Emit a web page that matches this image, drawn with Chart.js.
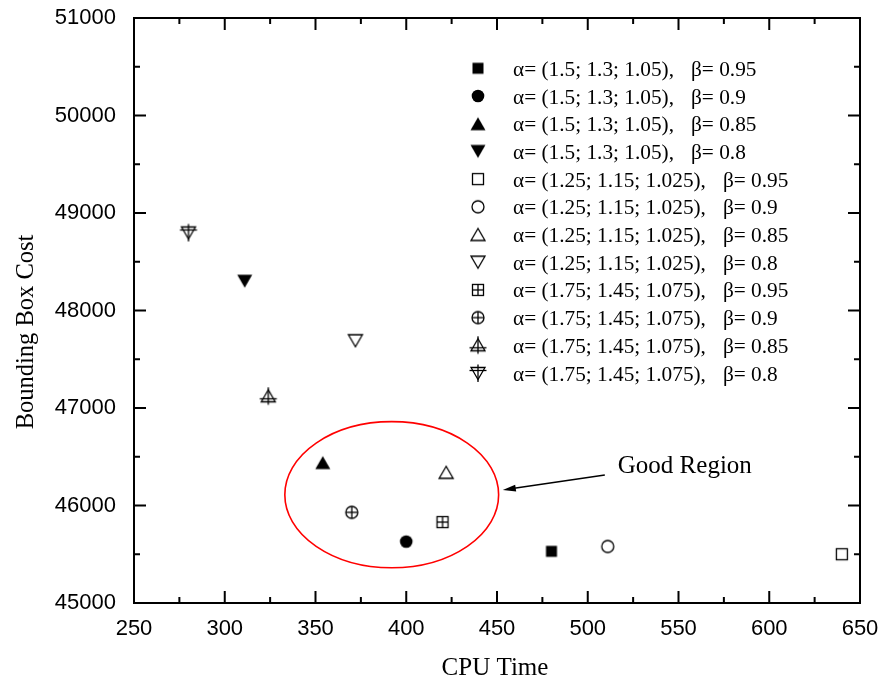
<!DOCTYPE html>
<html>
<head>
<meta charset="utf-8">
<script src="https://cdn.jsdelivr.net/npm/chart.js@4.4.1/dist/chart.umd.min.js"></script>
<style>
    html, body { margin: 0; padding: 0; background: #fff; }
    #chartContainer { width: 880px; height: 686px; }
</style>
</head>
<body>
<div id="chartContainer"><canvas id="myChart" width="880" height="686"></canvas></div>
<script>
// dane
const cpuTime = [480, 400, 354, 311, 640, 511, 422, 372, 420, 370, 324, 280];
const boxCost = [45530, 45630, 46440, 48300, 45500, 45580, 46340, 47690, 45830, 45930, 47120, 48800];
const alphaLabels = [
    '(1.5; 1.3; 1.05)', '(1.5; 1.3; 1.05)', '(1.5; 1.3; 1.05)', '(1.5; 1.3; 1.05)',
    '(1.25; 1.15; 1.025)', '(1.25; 1.15; 1.025)', '(1.25; 1.15; 1.025)', '(1.25; 1.15; 1.025)',
    '(1.75; 1.45; 1.075)', '(1.75; 1.45; 1.075)', '(1.75; 1.45; 1.075)', '(1.75; 1.45; 1.075)'
];
const betaLabels = ['0.95', '0.9', '0.85', '0.8', '0.95', '0.9', '0.85', '0.8', '0.95', '0.9', '0.85', '0.8'];
const markerKinds = [
    'square', 'circle', 'triUp', 'triDown',
    'openSquare', 'openCircle', 'openTriUp', 'openTriDown',
    'plusSquare', 'plusCircle', 'plusTriUp', 'plusTriDown'
];
const xRange = [250, 650, 50];
const yRange = [45000, 51000, 1000];

// obszar "Good Region" w jednostkach danych
const region = { x: 392, y: 46111, rx: 58.9, ry: 749 };
const arrow = { x1: 509.4, y1: 46313, x2: 453.2, y2: 46159 };

const serif = '"Liberation Serif", "Times New Roman", serif';
const sans = '"Liberation Sans", Arial, sans-serif';

function makeMarker(kind) {
    const c = document.createElement('canvas');
    c.width = 22;
    c.height = 22;
    const g = c.getContext('2d');
    g.fillStyle = '#000';
    g.strokeStyle = '#000';
    g.lineWidth = 1.3;
    const tri = (down, w, top, bottom) => {
        g.beginPath();
        if (!down) {
            g.moveTo(11, top); g.lineTo(11 - w / 2, bottom); g.lineTo(11 + w / 2, bottom);
        } else {
            g.moveTo(11, 22 - top); g.lineTo(11 - w / 2, 22 - bottom); g.lineTo(11 + w / 2, 22 - bottom);
        }
        g.closePath();
    };
    const line = (x1, y1, x2, y2) => {
        g.beginPath(); g.moveTo(x1, y1); g.lineTo(x2, y2); g.stroke();
    };
    switch (kind) {
        case 'square': g.fillRect(5.5, 5.5, 11, 11); break;
        case 'circle': g.beginPath(); g.arc(11, 11, 6.3, 0, Math.PI * 2); g.fill(); break;
        case 'triUp': tri(false, 15, 4.5, 17.5); g.fill(); break;
        case 'triDown': tri(true, 15, 4.5, 17.5); g.fill(); break;
        case 'openSquare':
        case 'plusSquare':
            g.fillStyle = '#fff'; g.fillRect(5.5, 5.5, 11, 11);
            g.strokeRect(5.5, 5.5, 11, 11);
            if (kind === 'plusSquare') { line(11, 5.5, 11, 16.5); line(5.5, 11, 16.5, 11); }
            break;
        case 'openCircle':
        case 'plusCircle':
            g.fillStyle = '#fff';
            g.beginPath(); g.arc(11, 11, 6, 0, Math.PI * 2); g.fill(); g.stroke();
            if (kind === 'plusCircle') { line(11, 5, 11, 17); line(5, 11, 17, 11); }
            break;
        case 'openTriUp':
        case 'openTriDown':
            g.fillStyle = '#fff';
            tri(kind === 'openTriDown', 14, 5, 17); g.fill(); g.stroke();
            break;
        case 'plusTriUp':
            g.fillStyle = '#fff';
            tri(false, 14, 4.5, 16.5); g.fill(); g.stroke();
            line(11, 2, 11, 19.5); line(2.5, 13.5, 19.5, 13.5);
            break;
        case 'plusTriDown':
            g.fillStyle = '#fff';
            tri(true, 14, 4.5, 16.5); g.fill(); g.stroke();
            line(11, 2.5, 11, 20); line(2.5, 8.5, 19.5, 8.5);
            break;
    }
    return c;
}

const markers = markerKinds.map(makeMarker);

const datasets = cpuTime.map((x, i) => ({
    label: 'α= ' + alphaLabels[i] + ',   β= ' + betaLabels[i],
    data: [{ x: x, y: boxCost[i] }],
    pointStyle: markers[i],
    pointRadius: 6,
    showLine: false
}));

// rama, znaczniki osi, legenda i adnotacje
const decorations = {
    id: 'decorations',
    afterDraw(chart) {
        const ctx = chart.ctx;
        const a = chart.chartArea;
        const xs = chart.scales.x;
        const ys = chart.scales.y;
        ctx.save();

        // elipsa
        const cx = xs.getPixelForValue(region.x);
        const cy = ys.getPixelForValue(region.y);
        const rx = xs.getPixelForValue(region.x + region.rx) - cx;
        const ry = cy - ys.getPixelForValue(region.y + region.ry);
        ctx.strokeStyle = '#ff0000';
        ctx.lineWidth = 1.6;
        ctx.beginPath();
        ctx.ellipse(cx, cy, rx, ry, 0, 0, Math.PI * 2);
        ctx.stroke();

        // strzałka
        const ax1 = xs.getPixelForValue(arrow.x1), ay1 = ys.getPixelForValue(arrow.y1);
        const ax2 = xs.getPixelForValue(arrow.x2), ay2 = ys.getPixelForValue(arrow.y2);
        const ang = Math.atan2(ay2 - ay1, ax2 - ax1);
        ctx.strokeStyle = '#000';
        ctx.fillStyle = '#000';
        ctx.lineWidth = 1.5;
        ctx.beginPath();
        ctx.moveTo(ax1, ay1);
        ctx.lineTo(ax2 - Math.cos(ang) * 8, ay2 - Math.sin(ang) * 8);
        ctx.stroke();
        ctx.beginPath();
        ctx.moveTo(ax2, ay2);
        ctx.lineTo(ax2 - Math.cos(ang) * 13 - Math.sin(ang) * 3.5, ay2 - Math.sin(ang) * 13 + Math.cos(ang) * 3.5);
        ctx.lineTo(ax2 - Math.cos(ang) * 13 + Math.sin(ang) * 3.5, ay2 - Math.sin(ang) * 13 - Math.cos(ang) * 3.5);
        ctx.closePath();
        ctx.fill();

        ctx.font = '25px ' + serif;
        ctx.textAlign = 'left';
        ctx.textBaseline = 'alphabetic';
        ctx.fillText('Good Region', ax1 + 13, ay1 - 2);

        // legenda
        ctx.font = '21.3px ' + serif;
        datasets.forEach((ds, i) => {
            const y = 68.3 + i * 27.7;
            ctx.drawImage(markers[i], 478 - 11, y - 11);
            const alphaText = 'α= ' + alphaLabels[i] + ',';
            ctx.fillText(alphaText, 513, y + 7.5);
            const w = ctx.measureText(alphaText).width;
            ctx.fillText('β= ' + betaLabels[i], 513 + w + 17, y + 7.5);
        });

        // rama i znaczniki do wewnątrz
        ctx.strokeStyle = '#000';
        ctx.lineWidth = 2;
        ctx.strokeRect(a.left, a.top, a.right - a.left, a.bottom - a.top);
        ctx.beginPath();
        for (let v = xRange[0]; v <= xRange[1]; v += xRange[2] / 2) {
            const px = xs.getPixelForValue(v);
            const len = ((v - xRange[0]) % xRange[2] === 0) ? 12 : 6;
            ctx.moveTo(px, a.bottom); ctx.lineTo(px, a.bottom - len);
            ctx.moveTo(px, a.top); ctx.lineTo(px, a.top + len);
        }
        for (let v = yRange[0]; v <= yRange[1]; v += yRange[2] / 2) {
            const py = ys.getPixelForValue(v);
            const len = ((v - yRange[0]) % yRange[2] === 0) ? 12 : 6;
            ctx.moveTo(a.left, py); ctx.lineTo(a.left + len, py);
            ctx.moveTo(a.right, py); ctx.lineTo(a.right - len, py);
        }
        ctx.stroke();

        // tytuły osi
        ctx.fillStyle = '#000';
        ctx.font = '25px ' + serif;
        ctx.textAlign = 'center';
        ctx.textBaseline = 'middle';
        ctx.fillText('CPU Time', 495, 668);
        ctx.translate(27, 332);
        ctx.rotate(-Math.PI / 2);
        ctx.font = '24.5px ' + serif;
        ctx.fillText('Bounding Box Cost', 0, 0);
        ctx.restore();
    }
};

document.addEventListener('DOMContentLoaded', function() {
    const ctx = document.getElementById('myChart').getContext('2d');
    new Chart(ctx, {
        type: 'scatter',
        data: { datasets: datasets },
        options: {
            responsive: false,
            animation: false,
            layout: { padding: { left: 0, top: 18, right: 20, bottom: 0 } },
            plugins: {
                legend: { display: false },
                tooltip: { enabled: false }
            },
            scales: {
                x: {
                    type: 'linear',
                    min: xRange[0],
                    max: xRange[1],
                    grid: { display: false },
                    border: { display: false },
                    ticks: {
                        stepSize: xRange[2],
                        color: '#000',
                        padding: 5,
                        maxRotation: 0,
                        font: { family: sans, size: 22 }
                    },
                    afterFit: function(s) {
                        s.height = 83;
                        s.paddingLeft = 0;
                        s.paddingRight = 0;
                    }
                },
                y: {
                    type: 'linear',
                    min: yRange[0],
                    max: yRange[1],
                    grid: { display: false },
                    border: { display: false },
                    ticks: {
                        stepSize: yRange[2],
                        color: '#000',
                        padding: 10,
                        font: { family: sans, size: 22 },
                        callback: function(value) { return String(value); }
                    },
                    afterFit: function(s) {
                        s.width = 134;
                        s.paddingTop = 0;
                        s.paddingBottom = 0;
                    }
                }
            }
        },
        plugins: [decorations]
    });
});
</script>
</body>
</html>
